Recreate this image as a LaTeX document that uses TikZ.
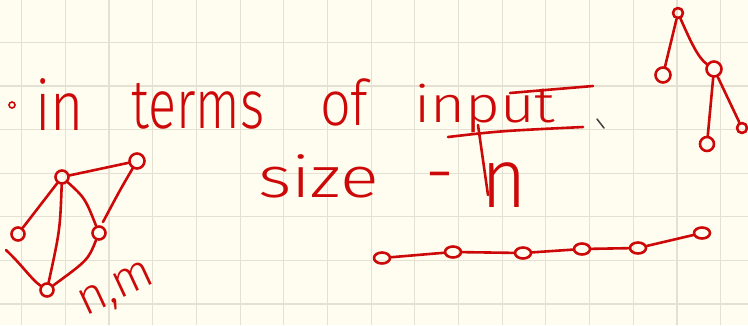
\documentclass[tikz,border=0pt]{standalone}
\usepackage{fontspec}
\setmainfont{Fira Sans}[UprightFont = * Light]
\usetikzlibrary{shapes.geometric}
\definecolor{paper}{RGB}{255,253,239}
\definecolor{gridc}{RGB}{228,225,211}
\definecolor{ink}{RGB}{204,8,8}
\tikzset{
  word/.style={text=ink, inner sep=0pt, outer sep=0pt, font=\fontsize{60}{72}\selectfont, anchor=base west},
  pen/.style={draw=ink, line width=2.6pt, line cap=round, line join=round},
  dot/.style={circle, pen, minimum size=13pt, inner sep=0pt},
  odot/.style={ellipse, pen, minimum width=16pt, minimum height=11pt, inner sep=0pt},
}
\begin{document}
\begin{tikzpicture}[x=1pt, y=-1pt]
\fill[paper] (0,0) rectangle (748,325);
\useasboundingbox (0,0) rectangle (748,325);
% grid
\foreach \i in {0,...,16} \draw[gridc, line width=1.2pt] ({21.7+43.68*\i},0) -- ({21.7+43.68*\i},325);
\foreach \j in {0,...,6} \draw[gridc, line width=1.2pt] (0,{42.3+43.6*\j}) -- (748,{42.3+43.6*\j});

% text
\node[circle, draw=ink, line width=1.6pt, minimum size=6pt, inner sep=0pt] (bul) at (12,105) {};
\node[word] (w1) at (35,130) {\scalebox{0.95}[1.15]{in}};
\node[word] (w2) at (131,128) {\scalebox{0.87}[1.15]{terms}};
\node[word] (w3) at (320,125) {\scalebox{0.9}[1.05]{of}};
\node[word] (w4) at (414,122) {\scalebox{1.0}[0.85]{input}};
\node[word] (w5) at (258,197) {\scalebox{1.2}[0.95]{size}};
\node[word] (w6) at (425,196) {\scalebox{1.2}[1.2]{-}};
\node[word] (w7) at (481,207) {\scalebox{1.3}[1.4]{n}};
\node[word, rotate=25, anchor=center] (w8) at (117,291) {\scalebox{0.8}{n,m}};
% underline and crossbar of "input", stray tick
\coordinate (u1) at (448,137); \coordinate (u2) at (583,127);
\draw[pen] (u1) .. controls (500,131) .. (u2);
\coordinate (c1) at (510,93); \coordinate (c2) at (593,86);
\draw[pen] (c1) -- (c2);
\coordinate (p1) at (478,125); \coordinate (p2) at (488,195);
\draw[pen] (p1) -- (p2);
\coordinate (k1) at (597,119); \coordinate (k2) at (604,128);
\draw[black!75, line width=1.5pt, line cap=round] (k1) -- (k2);

% graph (left)
\node[dot] (A) at (62,177) {};
\node[dot, minimum size=15pt] (B) at (137,161) {};
\node[dot] (C) at (18,234) {};
\node[dot] (D) at (99,233) {};
\node[dot] (E) at (47,290) {};
\draw[pen] (A) -- (B);
\draw[pen] (A) -- (C);
\draw[pen] (A) .. controls (60,230) .. (E);
\draw[pen] (A) .. controls (85,198) .. (D);
\coordinate (bd) at (103,222);
\draw[pen] (B) .. controls (120,190) .. (bd);
\draw[pen] (D) .. controls (88,260) .. (E);
\coordinate (s) at (6,250);
\draw[pen] (s) .. controls (22,265) and (32,280) .. (E);

% tree (right)
\node[dot, minimum size=10pt] (R) at (678,13) {};
\node[dot, minimum size=15pt] (L) at (663,75) {};
\node[dot, minimum size=15pt] (M) at (714,69) {};
\node[dot, minimum size=14pt] (ML) at (707,144) {};
\node[dot, minimum size=10pt] (MR) at (742,128) {};
\draw[pen] (R) -- (L);
\draw[pen] (R) .. controls (690,40) and (698,58) .. (M);
\draw[pen] (M) -- (ML);
\draw[pen] (M) -- (MR);

% path graph
\node[odot] (P1) at (382,258) {};
\node[odot] (P2) at (453,252) {};
\node[odot] (P3) at (523,253) {};
\node[odot] (P4) at (582,249) {};
\node[odot] (P5) at (638,248) {};
\node[odot] (P6) at (702,233) {};
\draw[pen] (P1) -- (P2);
\draw[pen] (P2) -- (P3);
\draw[pen] (P3) -- (P4);
\draw[pen] (P4) -- (P5);
\draw[pen] (P5) -- (P6);
\end{tikzpicture}
\end{document}
